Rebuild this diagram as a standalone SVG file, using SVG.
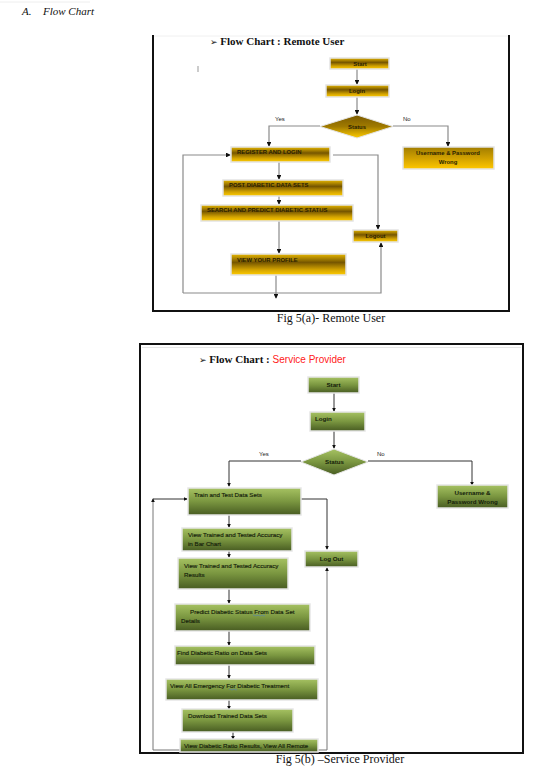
<svg xmlns="http://www.w3.org/2000/svg" width="533" height="768" viewBox="0 0 533 768">
<defs>
<linearGradient id="gold" x1="0" y1="0" x2="0" y2="1">
<stop offset="0" stop-color="#e8b800"/>
<stop offset="0.4" stop-color="#765600"/>
<stop offset="0.75" stop-color="#d4a400"/>
<stop offset="1" stop-color="#ffcc00"/>
</linearGradient>
<linearGradient id="gold2" x1="0" y1="0" x2="0" y2="1">
<stop offset="0" stop-color="#a07c00"/>
<stop offset="0.5" stop-color="#d0a000"/>
<stop offset="1" stop-color="#ffc800"/>
</linearGradient>
<linearGradient id="golddia" x1="0" y1="0" x2="0" y2="1">
<stop offset="0" stop-color="#7a5a00"/>
<stop offset="0.5" stop-color="#a07a00"/>
<stop offset="1" stop-color="#ffcc00"/>
</linearGradient>
<linearGradient id="green" x1="0" y1="0" x2="0" y2="1">
<stop offset="0" stop-color="#a6c262"/>
<stop offset="0.5" stop-color="#7a9640"/>
<stop offset="1" stop-color="#485c22"/>
</linearGradient>
<marker id="ah" viewBox="0 0 6 6" refX="5" refY="3" markerWidth="4" markerHeight="4" orient="auto">
<path d="M0,0 L6,3 L0,6 z" fill="#111"/>
</marker>
<style>
.fa{stroke:#e4e4e4;stroke-width:1.5;fill:url(#gold)}
.fa2{stroke:#e4e4e4;stroke-width:1.5;fill:url(#gold2)}
.fb{stroke:#e6e6e6;stroke-width:1.5;fill:url(#green)}
.ta{font-family:"Liberation Sans",Arial,sans-serif;font-size:5.9px;font-weight:bold;fill:#2a1e00}
.tb{font-family:"Liberation Sans",Arial,sans-serif;font-size:6.2px;fill:#14200a;stroke:#14200a;stroke-width:0.15}
.tbb{font-family:"Liberation Sans",Arial,sans-serif;font-size:6.2px;font-weight:bold;fill:#14200a}
.lbl{font-family:"Liberation Sans",Arial,sans-serif;font-size:6px;fill:#222}
.ca{stroke:#8a8a8a;stroke-width:1.2;fill:none}
.cb{stroke:#333;stroke-width:1;fill:none}
.cap{font-family:"Liberation Serif","Times New Roman",serif;font-size:12px;fill:#111}
.ttl{font-family:"Liberation Serif","DejaVu Serif",serif;font-size:11px;font-weight:bold;fill:#111}
</style>
</defs>
<rect width="533" height="768" fill="#fff"/>
<line x1="0" y1="2" x2="90" y2="2" stroke="#eee" stroke-width="1"/>
<text x="22" y="15" font-family="Liberation Serif,serif" font-style="italic" font-size="11" fill="#111">A.</text>
<text x="43" y="15" font-family="Liberation Serif,serif" font-style="italic" font-size="11" fill="#111">Flow Chart</text>

<!-- Figure (a) frame -->
<g id="frameA">
<line x1="153" y1="36" x2="509" y2="36" stroke="#f0f0f0" stroke-width="1"/>
<path d="M153,35 V311 H509 V35" fill="none" stroke="#111" stroke-width="2"/>
<text class="ttl" x="210" y="45"><tspan font-family="DejaVu Sans,sans-serif" font-size="9">➢</tspan> Flow Chart  : Remote User</text>
<line x1="198" y1="66" x2="198" y2="72" stroke="#999" stroke-width="1"/>
</g>

<g id="connectorsA">
<line class="ca" x1="357" y1="69" x2="357" y2="84" marker-end="url(#ah)"/>
<line class="ca" x1="357" y1="97" x2="357" y2="114" marker-end="url(#ah)"/>
<path class="ca" d="M320,126 H269 V146" marker-end="url(#ah)"/>
<path class="ca" d="M393,126 H448 V146" marker-end="url(#ah)"/>
<line class="ca" x1="279" y1="162" x2="279" y2="179" marker-end="url(#ah)"/>
<line class="ca" x1="279" y1="196" x2="279" y2="204" marker-end="url(#ah)"/>
<line class="ca" x1="279" y1="221" x2="279" y2="253" marker-end="url(#ah)"/>
<line class="ca" x1="276" y1="275" x2="276" y2="298" marker-end="url(#ah)"/>
<path class="ca" d="M183,293 V155 H230" marker-end="url(#ah)"/>
<path class="ca" d="M183,293 H381 V243" marker-end="url(#ah)"/>
<path class="ca" d="M333,155 H378 V229" marker-end="url(#ah)"/>
<text class="lbl" x="275" y="121">Yes</text>
<text class="lbl" x="403" y="121">No</text>
</g>

<g id="a-start"><rect class="fa" x="330" y="58" width="59" height="11"/><text class="ta" x="360" y="65.5" text-anchor="middle">Start</text></g>
<g id="a-login"><rect class="fa" x="326" y="85" width="63" height="12"/><text class="ta" x="357" y="92.5" text-anchor="middle">Login</text></g>
<g id="a-status"><polygon points="357,115 393,126.5 357,138 320,126.5" fill="url(#golddia)" stroke="#e4e4e4" stroke-width="1"/><text class="ta" x="357" y="128.5" text-anchor="middle">Status</text></g>
<g id="a-register"><rect class="fa" x="231" y="147" width="99" height="15"/><text class="ta" x="237" y="154">REGISTER AND LOGIN</text></g>
<g id="a-wrong"><rect class="fa2" x="403" y="147" width="91" height="22"/><text class="ta" x="448" y="155" text-anchor="middle">Username &amp; Password</text><text class="ta" x="448" y="163.5" text-anchor="middle">Wrong</text></g>
<g id="a-post"><rect class="fa" x="223" y="180" width="120" height="16"/><text class="ta" x="229" y="187">POST DIABETIC DATA SETS</text></g>
<g id="a-search"><rect class="fa" x="201" y="205" width="152" height="16"/><text class="ta" x="207" y="212">SEARCH AND PREDICT DIABETIC STATUS</text></g>
<g id="a-logout"><rect class="fa" x="353" y="230" width="45" height="12"/><text class="ta" x="375.5" y="237.5" text-anchor="middle">Logout</text></g>
<g id="a-profile"><rect class="fa" x="231" y="254" width="115" height="21"/><text class="ta" x="237" y="262">VIEW YOUR PROFILE</text></g>

<text class="cap" x="331" y="322" text-anchor="middle">Fig 5(a)- Remote User</text>

<!-- Figure (b) frame -->
<g id="frameB">
<rect x="140" y="344" width="383" height="409" fill="none" stroke="#111" stroke-width="2"/>
<line x1="142" y1="347.5" x2="521" y2="347.5" stroke="#e6e6e6" stroke-width="1"/>
<text class="ttl" x="199" y="363"><tspan font-family="DejaVu Sans,sans-serif" font-size="9">➢</tspan> Flow Chart  :<tspan font-family="Liberation Sans,Arial,sans-serif" font-weight="normal" fill="#ff2020" font-size="10"> Service Provider</tspan></text>
</g>

<g id="connectorsB">
<line class="cb" x1="334" y1="393" x2="334" y2="411" marker-end="url(#ah)"/>
<line class="cb" x1="334" y1="431" x2="334" y2="448" marker-end="url(#ah)"/>
<path class="cb" d="M301,461 H229 V486" marker-end="url(#ah)"/>
<path class="cb" d="M368,461 H472 V485" marker-end="url(#ah)"/>
<line class="cb" x1="229" y1="515" x2="229" y2="527" marker-end="url(#ah)"/>
<line class="cb" x1="229" y1="551" x2="229" y2="557" marker-end="url(#ah)"/>
<line class="cb" x1="229" y1="589" x2="229" y2="603" marker-end="url(#ah)"/>
<line class="cb" x1="229" y1="631" x2="229" y2="645" marker-end="url(#ah)"/>
<line class="cb" x1="229" y1="665" x2="229" y2="678" marker-end="url(#ah)"/>
<line class="cb" x1="229" y1="700" x2="229" y2="709" marker-end="url(#ah)"/>
<line class="cb" x1="233" y1="732" x2="233" y2="739" marker-end="url(#ah)"/>
<path class="cb" d="M288,499 H327 V549" marker-end="url(#ah)"/>
<path d="M180,750 H153 V499" fill="none" stroke="#777" stroke-width="1" marker-end="url(#ah)"/>
<line class="cb" x1="153" y1="499" x2="187" y2="499" marker-end="url(#ah)"/>
<path d="M318,750 H327 V568" fill="none" stroke="#777" stroke-width="1" marker-end="url(#ah)"/>
<text class="lbl" x="259" y="456">Yes</text>
<text class="lbl" x="377" y="456">No</text>
</g>

<g id="b-start"><rect class="fb" x="308" y="377" width="51" height="16"/><text class="tbb" x="333.5" y="387" text-anchor="middle">Start</text></g>
<g id="b-login"><rect class="fb" x="310" y="412" width="55" height="19"/><text class="tbb" x="315" y="421">Login</text></g>
<g id="b-status"><polygon points="334,449 368,462 334,475 301,462" fill="url(#green)" stroke="#e6e6e6" stroke-width="1"/><text class="tbb" x="334.5" y="464" text-anchor="middle">Status</text></g>
<g id="b-wrong"><rect class="fb" x="437" y="485" width="71" height="23"/><text class="tbb" x="472.5" y="494.5" text-anchor="middle">Username &amp;</text><text class="tbb" x="472.5" y="503.5" text-anchor="middle">Password Wrong</text></g>
<g id="b-train"><rect class="fb" x="188" y="488" width="113" height="27"/><text class="tb" x="194" y="497">Train and Test Data Sets</text></g>
<g id="b-logout"><rect class="fb" x="305" y="551" width="53" height="16"/><text class="tbb" x="331.5" y="561" text-anchor="middle">Log Out</text></g>
<g id="b-bar"><rect class="fb" x="182" y="528" width="110" height="23"/><text class="tb" x="188" y="537">View  Trained and Tested Accuracy</text><text class="tb" x="188" y="546">in Bar Chart</text></g>
<g id="b-results"><rect class="fb" x="178" y="558" width="110" height="31"/><text class="tb" x="184" y="567.5">View Trained and Tested Accuracy</text><text class="tb" x="184" y="576.5">Results</text></g>
<g id="b-predict"><rect class="fb" x="175" y="604" width="135" height="27"/><text class="tb" x="190" y="614">Predict Diabetic Status From Data Set</text><text class="tb" x="181" y="623">Details</text><path d="M253,615.5 q1,-1 2,0 t2,0 t2,0 t2,0 t2,0 t2,0" fill="none" stroke="#4a7ad0" stroke-width="0.5"/></g>
<g id="b-ratio"><rect class="fb" x="175" y="646" width="140" height="19"/><text class="tb" x="177" y="655">Find Diabetic Ratio on Data Sets</text></g>
<g id="b-emerg"><rect class="fb" x="166" y="679" width="152" height="21"/><text class="tb" x="170" y="688">View All Emergency For Diabetic Treatment</text><path d="M229,689.5 q1,-1 2,0 t2,0 t2,0 t2,0" fill="none" stroke="#4a7ad0" stroke-width="0.5"/></g>
<g id="b-download"><rect class="fb" x="182" y="709" width="111" height="23"/><text class="tb" x="188" y="718">Download Trained Data Sets</text></g>
<g id="b-view"><rect class="fb" x="180" y="739" width="138" height="13"/><text class="tb" x="184" y="748">View Diabetic Ratio Results, View All Remote</text></g>

<text class="cap" x="340" y="763" text-anchor="middle">Fig 5(b) –Service Provider</text>
</svg>
